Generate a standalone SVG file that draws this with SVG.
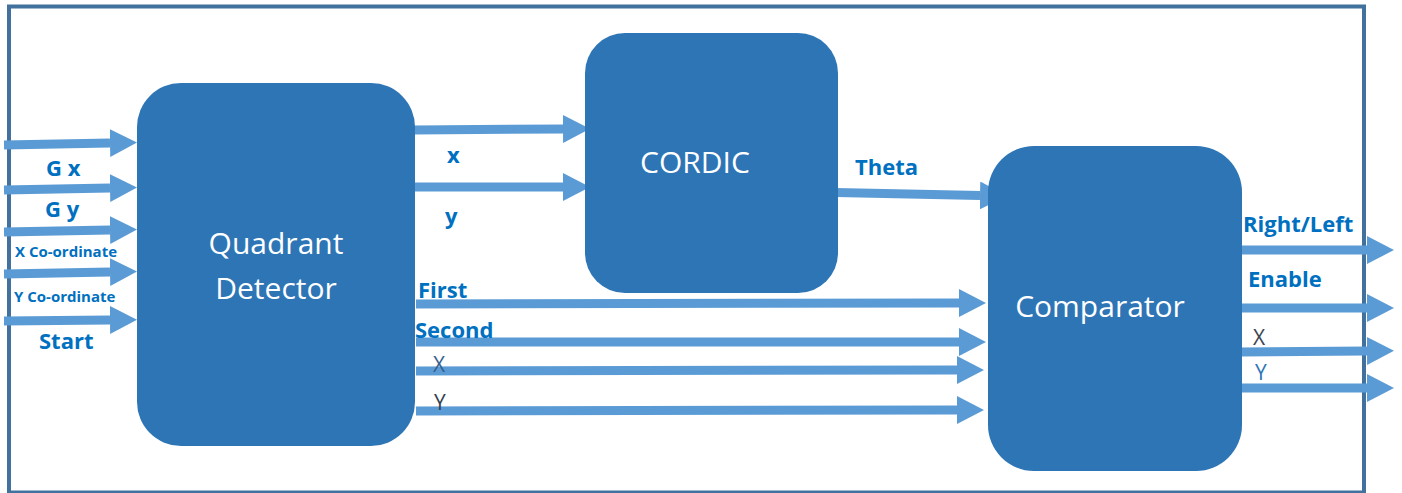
<svg xmlns="http://www.w3.org/2000/svg" width="1402" height="493" viewBox="0 0 1402 493">
  <defs>
    <style>
      .frame { fill: none; stroke: #41719c; stroke-width: 4; }
      .block { fill: #2e75b6; }
      .block-text { fill: #ffffff; font-family: "Open Sans", "Noto Sans", sans-serif; font-size: 30px; text-anchor: middle; }
      .wire { stroke: #5b9bd5; stroke-width: 9; fill: none; marker-end: url(#head); }
      .lbl { fill: #0070c0; font-family: "Open Sans", "Noto Sans", sans-serif; font-weight: bold; font-size: 22px; }
      .lbl-sm { fill: #0070c0; font-family: "Open Sans", "Noto Sans", sans-serif; font-weight: bold; font-size: 15px; }
      .lbl-plain { font-family: "Open Sans", "Noto Sans", sans-serif; font-size: 21px; }
    </style>
    <marker id="head" markerUnits="userSpaceOnUse" markerWidth="27" markerHeight="28" refX="0" refY="14" orient="auto">
      <path d="M0,0 L27,14 L0,28 Z" fill="#5b9bd5"/>
    </marker>
  </defs>

  <rect width="1402" height="493" fill="#ffffff"/>
  <rect class="frame" x="9" y="6.5" width="1355" height="486"/>

  <!-- connectors -->
  <g id="connectors">
    <!-- inputs -->
    <line class="wire" x1="4" y1="145" x2="110" y2="143"/>
    <line class="wire" x1="4" y1="190" x2="110" y2="188"/>
    <line class="wire" x1="4" y1="232" x2="110" y2="230"/>
    <line class="wire" x1="4" y1="274" x2="110" y2="272"/>
    <line class="wire" x1="4" y1="321" x2="110" y2="320"/>
    <!-- detector to CORDIC -->
    <line class="wire" x1="414" y1="130" x2="563" y2="129"/>
    <line class="wire" x1="414" y1="187" x2="563" y2="187"/>
    <!-- CORDIC to comparator -->
    <line class="wire" x1="836" y1="192.5" x2="980" y2="195.5"/>
    <!-- detector to comparator -->
    <line class="wire" x1="416" y1="304" x2="959" y2="303"/>
    <line class="wire" x1="416" y1="342" x2="959" y2="342"/>
    <line class="wire" x1="416" y1="371" x2="957" y2="370"/>
    <line class="wire" x1="416" y1="411" x2="957" y2="410"/>
    <!-- outputs -->
    <line class="wire" x1="1240" y1="250" x2="1367" y2="250"/>
    <line class="wire" x1="1240" y1="308" x2="1367" y2="308"/>
    <line class="wire" x1="1240" y1="352" x2="1367" y2="351"/>
    <line class="wire" x1="1240" y1="388" x2="1367" y2="388"/>
  </g>

  <g id="quadrant-detector">
    <rect class="block" x="137" y="83" width="278" height="363" rx="44"/>
    <text class="block-text" x="276" y="254">Quadrant</text>
    <text class="block-text" x="276" y="299">Detector</text>
  </g>

  <g id="cordic">
    <rect class="block" x="585" y="33" width="253" height="260" rx="40"/>
    <text class="block-text" x="695" y="173">CORDIC</text>
  </g>

  <g id="comparator">
    <rect class="block" x="988" y="146" width="254" height="325" rx="46"/>
    <text class="block-text" x="1100" y="317">Comparator</text>
  </g>

  <!-- signal labels -->
  <g id="labels">
    <text class="lbl" x="46" y="176">G x</text>
    <text class="lbl" x="45" y="217">G y</text>
    <text class="lbl-sm" x="15" y="257">X Co-ordinate</text>
    <text class="lbl-sm" x="14" y="302">Y Co-ordinate</text>
    <text class="lbl" x="39" y="349">Start</text>

    <text class="lbl" x="447" y="163">x</text>
    <text class="lbl" x="445" y="224">y</text>
    <text class="lbl" x="855" y="175">Theta</text>

    <text class="lbl" x="418" y="298">First</text>
    <text class="lbl" x="415" y="338">Second</text>
    <text class="lbl-plain" x="433" y="372" fill="#35608f">X</text>
    <text class="lbl-plain" x="434" y="410" fill="#333f50">Y</text>

    <text class="lbl" x="1243" y="232">Right/Left</text>
    <text class="lbl" x="1248" y="287">Enable</text>
    <text class="lbl-plain" x="1253" y="345" fill="#3b4452">X</text>
    <text class="lbl-plain" x="1255" y="380" fill="#2e75b6">Y</text>
  </g>
</svg>
